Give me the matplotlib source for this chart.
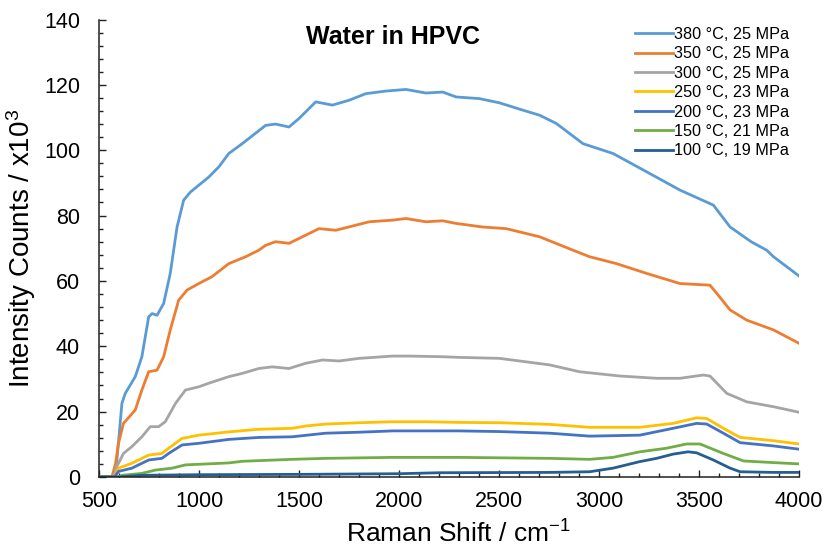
import matplotlib
matplotlib.use("Agg")
import matplotlib.pyplot as plt
from matplotlib.ticker import MultipleLocator

plt.rcParams['font.family'] = ['Liberation Sans', 'DejaVu Sans']
plt.rcParams['mathtext.fontset'] = 'custom'
plt.rcParams['mathtext.rm'] = 'Liberation Sans'
plt.rcParams['mathtext.it'] = 'Liberation Sans:italic'

# Raman shift (cm-1) and intensity (x10^3 counts) for each run
x_380 = [500, 565, 585, 600, 612, 629, 679, 712, 746, 763, 788, 821, 854, 888, 921,
         955, 997, 1047, 1097, 1147, 1214, 1331, 1381, 1448, 1498, 1582, 1665, 1749,
         1832, 1933, 2033, 2133, 2217, 2284, 2400, 2501, 2600, 2702, 2785, 2919, 3069,
         3237, 3404, 3571, 3655, 3760, 3838, 3872, 4000]
y_380 = [0, 0, 4, 14, 22.5, 25.6, 30.7, 36.8, 49, 50, 49.5, 53.1, 62.3, 76.5, 84.7,
         87.2, 89.3, 91.8, 94.9, 99, 102, 107.6, 108, 107.1, 109.7, 114.8, 113.8, 115.3,
         117.3, 118.1, 118.6, 117.5, 117.8, 116.3, 115.8, 114.5, 112.6, 110.7, 108.2, 102, 99,
         93.4, 87.8, 83.2, 76.5, 72.0, 69.4, 67.4, 61.5]

x_350 = [500, 562, 580, 595, 620, 679, 712, 746, 788, 821, 854, 896, 938, 997, 1063,
         1147, 1231, 1297, 1331, 1381, 1448, 1532, 1598, 1682, 1766, 1849, 1966,
         2033, 2133, 2217, 2284, 2417, 2535, 2702, 2869, 2952, 3086, 3237, 3404, 3554,
         3588, 3655, 3738, 3872, 4000]
y_350 = [0, 0, 4, 10.3, 16.4, 20.5, 26.6, 32.2, 32.7, 36.8, 45, 54.1, 57.2, 59.2, 61.3,
         65.3, 67.4, 69.4, 70.9, 72, 71.5, 74, 76, 75.5, 76.8, 78.1, 78.6,
         79.1, 78.1, 78.4, 77.6, 76.5, 76, 73.5, 69.4, 67.4, 65.3, 62.3, 59.2, 58.7,
         56.2, 51.1, 48, 45, 40.9]

x_300 = [500, 570, 587, 620, 662, 712, 754, 796, 829, 880, 930, 997, 1047, 1147,
         1214, 1297, 1364, 1448, 1532, 1615, 1699, 1799, 1966, 2050, 2217, 2300, 2501,
         2752, 2902, 3103, 3287, 3404, 3521, 3554, 3638, 3738, 3872, 4000]
y_300 = [0, 0, 3.2, 7.2, 9.3, 12.3, 15.4, 15.4, 16.9, 22.5, 26.6, 27.6, 28.7, 30.7,
         31.7, 33.2, 33.7, 33.2, 34.8, 35.8, 35.5, 36.3, 37, 37, 36.8, 36.6, 36.3,
         34.3, 32.2, 30.9, 30.2, 30.2, 31.2, 30.9, 25.6, 23, 21.5, 19.8]

x_250 = [500, 575, 595, 662, 746, 812, 846, 913, 997, 1147, 1297, 1464, 1532, 1632,
         1799, 1966, 2133, 2300, 2501, 2752, 2952, 3203, 3370, 3487, 3538, 3621, 3705,
         3872, 4000]
y_250 = [0, 0, 2.7, 4.2, 6.7, 7.2, 8.8, 11.8, 12.8, 13.8, 14.6, 14.9, 15.6, 16.2,
         16.6, 16.9, 16.9, 16.7, 16.6, 16.1, 15.2, 15.2, 16.4, 18.1, 17.9, 14.9, 12.1,
         11.1, 10.1]

x_200 = [500, 575, 595, 662, 746, 812, 846, 913, 997, 1147, 1297, 1464, 1632, 1799,
         1966, 2300, 2501, 2752, 2952, 3203, 3370, 3487, 3538, 3621, 3705, 3872, 4000]
y_200 = [0, 0, 1.7, 2.7, 5.2, 5.7, 7.2, 9.8, 10.3, 11.5, 12.1, 12.3, 13.4, 13.7,
         14.1, 14.1, 13.9, 13.4, 12.5, 12.8, 14.9, 16.4, 16.2, 13.4, 10.5, 9.5, 8.5]

x_150 = [500, 590, 612, 712, 779, 863, 930, 1147, 1214, 1464, 1632, 1966, 2300,
         2752, 2952, 3069, 3203, 3337, 3437, 3504, 3621, 3722, 3872, 4000]
y_150 = [0, 0, 0.5, 1.1, 2.1, 2.7, 3.7, 4.3, 4.8, 5.4, 5.7, 6.0, 6.0,
         5.7, 5.4, 6.0, 7.7, 8.8, 10.1, 10.1, 7.2, 4.9, 4.4, 4.0]

x_100 = [500, 600, 700, 1000, 1500, 2000, 2200, 2752, 2952, 3069, 3203, 3287, 3370,
         3445, 3487, 3571, 3655, 3705, 3872, 4000]
y_100 = [0, 0, 0.5, 0.7, 0.8, 1.0, 1.3, 1.4, 1.6, 2.7, 4.7, 5.7, 7.0,
         7.7, 7.4, 5.2, 2.7, 1.6, 1.4, 1.4]

series = [
    (x_380, y_380, '380 °C, 25 MPa', '#5B9BD5'),
    (x_350, y_350, '350 °C, 25 MPa', '#ED7D31'),
    (x_300, y_300, '300 °C, 25 MPa', '#A5A5A5'),
    (x_250, y_250, '250 °C, 23 MPa', '#FFC000'),
    (x_200, y_200, '200 °C, 23 MPa', '#4472C4'),
    (x_150, y_150, '150 °C, 21 MPa', '#70AD47'),
    (x_100, y_100, '100 °C, 19 MPa', '#255E91'),
]

fig = plt.figure(figsize=(8.25, 5.48), dpi=100)
ax = fig.add_axes([0.1206, 0.1296, 0.848, 0.8348])

for xs, ys, lab, col in series:
    ax.plot(xs, ys, color=col, lw=2, label=lab)

ax.set_xlim(500, 4000)
ax.set_ylim(0, 140)
ax.xaxis.set_major_locator(MultipleLocator(500))
ax.xaxis.set_minor_locator(MultipleLocator(100))
ax.yaxis.set_major_locator(MultipleLocator(20))
ax.yaxis.set_minor_locator(MultipleLocator(4))
ax.tick_params(which='both', direction='in', labelsize=15.5, color='#222222', width=1)
ax.tick_params(which='major', length=5)
ax.tick_params(which='minor', length=3)
ax.tick_params(axis='x', pad=10)
ax.tick_params(axis='y', pad=14)

for side in ('top', 'right'):
    ax.spines[side].set_visible(False)
for side in ('left', 'bottom'):
    ax.spines[side].set_color('#222222')
    ax.spines[side].set_linewidth(1.1)

ax.set_xlabel('Raman Shift / cm$^{-1}$', fontsize=19)
ax.xaxis.set_label_coords(0.5125, -0.1445)
ax.xaxis.label.set_verticalalignment('baseline')
ax.set_ylabel('Intensity Counts / x10$^{3}$', fontsize=20, labelpad=4)
ax.text(0.4196, 0.9617, 'Water in HPVC', transform=ax.transAxes, fontsize=18,
        fontweight='bold', ha='center', va='center')

ax.legend(loc='upper right', bbox_to_anchor=(1.0, 1.005), frameon=False, fontsize=11.7,
          handlelength=2.3, handletextpad=0.1, labelspacing=0.27, borderaxespad=0.2)

fig.savefig('out.png', dpi=100)
